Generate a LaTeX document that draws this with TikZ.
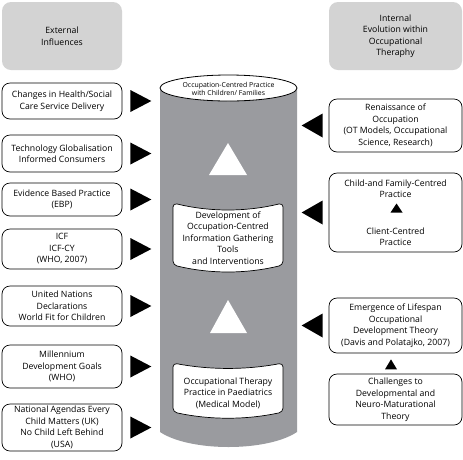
\documentclass[tikz,border=0pt]{standalone}
\usepackage{fontspec}
\setmainfont{Open Sans}
\usepackage{tikz}
\usepackage{xcolor}
\definecolor{headgray}{RGB}{211,211,211}
\definecolor{cylgray}{RGB}{154,155,159}
\tikzstyle{head} = [rounded corners=9pt, fill=headgray, align=center, inner sep=0pt]
\tikzstyle{box} = [draw, rounded corners=8pt, align=center, inner sep=0pt, line width=0.7pt]

\begin{document}
\begin{tikzpicture}[x=1pt, y=-1pt, font=\fontsize{8.7}{11.5}\selectfont]
\useasboundingbox (0,0) rectangle (463,459);

% headers
\node[head, minimum width=120, minimum height=68] (hl) at (62,36) {External\\Influences};
\node[head, minimum width=133, minimum height=68] (hr) at (395.5,36) {Internal\\Evolution within\\Occupational\\Theraphy};

% cylinder
\fill[cylgray] (160,88) -- (160,432) .. controls (190,452) and (267,452) .. (297,432) -- (297,88) -- cycle;
\draw[fill=white, line width=0.8pt] (228.5,88) ellipse [x radius=68.5, y radius=13];
\node[font=\fontsize{6.9}{8.5}\selectfont, align=center] (top) at (228.5,89) {Occupation-Centred Practice\\with Children/ Families};
\fill[white] (228,143) -- (247,175) -- (209,175) -- cycle;
\fill[white] (228,300) -- (247,333) -- (210,333) -- cycle;
\draw[fill=white, line width=0.7pt, rounded corners=4pt] (173,203) .. controls (210,212) and (246,212) .. (283,203) -- (283,265) .. controls (246,274) and (210,274) .. (173,265) -- cycle;
\node[align=center] (dev) at (228,238) {Development of\\Occupation-Centred\\Information Gathering\\Tools\\and Interventions};
\draw[fill=white, line width=0.7pt, rounded corners=4pt] (173,363) .. controls (210,370) and (246,370) .. (283,363) -- (283,412) .. controls (246,420) and (210,420) .. (173,412) -- cycle;
\node[align=center] (med) at (228,393) {Occupational Therapy\\Practice in Paediatrics\\(Medical Model)};

% external influences
\node[box, minimum width=120, minimum height=36] (b1) at (62,101) {Changes in Health/Social\\Care Service Delivery};
\node[box, minimum width=120, minimum height=37] (b2) at (62,153.5) {Technology Globalisation\\Informed Consumers};
\node[box, minimum width=120, minimum height=33] (b3) at (62,199.5) {Evidence Based Practice\\(EBP)};
\node[box, minimum width=120, minimum height=40] (b4) at (62,249) {ICF\\ICF-CY\\(WHO, 2007)};
\node[box, minimum width=120, minimum height=40] (b5) at (62,306) {United Nations\\Declarations\\World Fit for Children};
\node[box, minimum width=120, minimum height=43] (b6) at (62,366.5) {Millennium\\Development Goals\\(WHO)};
\node[box, minimum width=120, minimum height=47] (b7) at (62,427.5) {National Agendas Every\\Child Matters (UK)\\No Child Left Behind\\(USA)};

% internal evolution
\node[box, minimum width=133, minimum height=53] (r1) at (395.5,125.5) {Renaissance of\\Occupation\\(OT Models, Occupational\\Science, Research)};
\node[box, minimum width=133, minimum height=79] (r2) at (395.5,212.5) {Child-and Family-Centred\\Practice\\[25pt]Client-Centred\\Practice};
\node[box, minimum width=133, minimum height=55] (r3) at (395.5,325.5) {Emergence of Lifespan\\Occupational\\Development Theory\\(Davis and Polatajko, 2007)};
\node[box, minimum width=133, minimum height=51] (r4) at (395.5,399.5) {Challenges to\\Developmental and\\Neuro-Maturational\\Theory};
\fill ([xshift=1]r2.center) ++(0,-9) -- ++(6,9) -- ++(-12,0) -- cycle;
\fill ([xshift=-4.5]r3.south) ++(0,6) -- ++(6,10) -- ++(-12,0) -- cycle;

% arrows into the cylinder
\foreach \i in {1,2,3,4,5,6,7}
{
	\fill ([xshift=8]b\i.east) ++(0,-11) -- ++(21,11) -- ++(-21,11) -- cycle;
}
\foreach \i in {1,2,3}
{
	\fill ([xshift=-6]r\i.west) ++(0,-12) -- ++(-21,12) -- ++(21,12) -- cycle;
}

\end{tikzpicture}
\end{document}
